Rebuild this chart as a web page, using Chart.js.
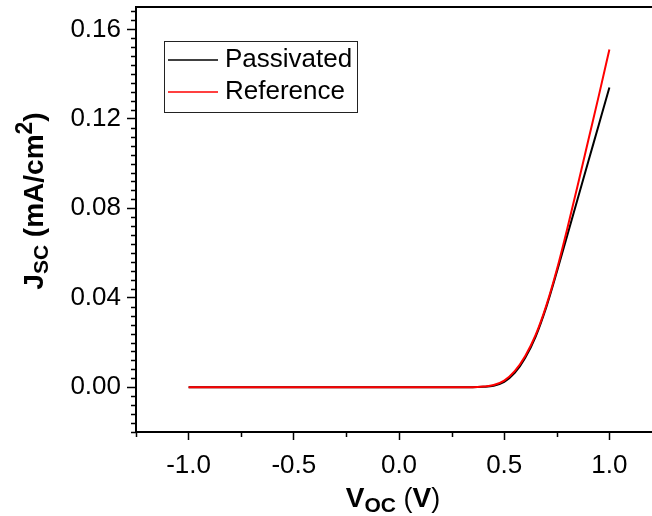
<!DOCTYPE html>
<html>
<head>
<meta charset="utf-8">
<script src="https://cdn.jsdelivr.net/npm/chart.js@4.4.1/dist/chart.umd.min.js"></script>
<style>
  html, body { margin: 0; padding: 0; background: #fff; overflow: hidden; }
  #jvChart { display: block; }
</style>
</head>
<body>
<canvas id="jvChart" width="670" height="516"></canvas>
<script>
// bias sweep (V) and current density for both devices (mA/cm2)
const vocV = [-1.0, -0.5, 0.0, 0.30, 0.35, 0.40, 0.45, 0.50, 0.55, 0.60, 0.65, 0.70, 0.75, 0.80, 0.85, 0.90, 0.95, 1.00];
const jPassivated = [0, 0, 0, 0, 0, 0.0002, 0.0007, 0.0024, 0.0064, 0.0132, 0.0228, 0.0358, 0.0515, 0.0680, 0.0845, 0.1010, 0.1175, 0.1340];
const jReference = [0, 0, 0, 0, 0, 0.0003, 0.0010, 0.0030, 0.0072, 0.0140, 0.0235, 0.0365, 0.0525, 0.0710, 0.0905, 0.1105, 0.1305, 0.1510];

const seriesNames = ['Passivated', 'Reference'];
const seriesColors = ['#000000', '#ff0000'];

const xTicks = [-1.0, -0.5, 0.0, 0.5, 1.0];
const xMinorTicks = [-1.25, -0.75, -0.25, 0.25, 0.75, 1.25];
const yTicks = [0.00, 0.04, 0.08, 0.12, 0.16];

const FONT = '"Liberation Sans", Arial, sans-serif';

function toPoints(ys) {
  return vocV.map((v, i) => ({ x: v, y: ys[i] }));
}

// keep the plot box fixed, no extra room for edge labels
function fixBox(s, size) {
  if (s.isHorizontal()) s.height = size; else s.width = size;
  s.paddingTop = s.paddingBottom = s.paddingLeft = s.paddingRight = 0;
}

// minor ticks, box outline and legend
const decorPlugin = {
  id: 'decor',
  afterDraw(chart) {
    const { ctx, chartArea: a, scales } = chart;
    ctx.save();
    ctx.strokeStyle = '#000';
    ctx.lineWidth = 1.5;
    ctx.beginPath();
    for (let k = -5; k <= 42; k++) {
      if (k % 10 === 0) continue;
      const y = Math.round(scales.y.getPixelForValue(k * 0.004)) + 0.5;
      ctx.moveTo(a.left - 5, y);
      ctx.lineTo(a.left, y);
    }
    xMinorTicks.forEach(v => {
      const x = Math.round(scales.x.getPixelForValue(v)) + 0.5;
      ctx.moveTo(x, a.bottom);
      ctx.lineTo(x, a.bottom + 5);
    });
    ctx.stroke();

    ctx.lineWidth = 2;
    ctx.strokeRect(a.left, a.top, a.right - a.left, a.bottom - a.top);

    // legend box
    const lx = a.left + 28, ly = a.top + 34;
    ctx.lineWidth = 1;
    ctx.strokeStyle = '#222';
    ctx.strokeRect(lx + 0.5, ly + 0.5, 193, 71);
    ctx.font = '26px ' + FONT;
    ctx.textBaseline = 'middle';
    ctx.textAlign = 'left';
    seriesNames.forEach((name, i) => {
      const yy = ly + 19 + i * 32;
      ctx.strokeStyle = seriesColors[i];
      ctx.lineWidth = 1.5;
      ctx.beginPath();
      ctx.moveTo(lx + 4, yy);
      ctx.lineTo(lx + 54, yy);
      ctx.stroke();
      ctx.fillStyle = '#000';
      ctx.fillText(name, lx + 61, yy);
    });

    // axis titles with sub/superscripts
    const drawRuns = (runs, cx, cy, rotate) => {
      ctx.save();
      ctx.translate(cx, cy);
      if (rotate) ctx.rotate(-Math.PI / 2);
      ctx.textBaseline = 'alphabetic';
      ctx.fillStyle = '#000';
      let total = 0;
      runs.forEach(r => { ctx.font = r.font; total += ctx.measureText(r.text).width; });
      let x = -total / 2;
      runs.forEach(r => {
        ctx.font = r.font;
        ctx.fillText(r.text, x, r.dy || 0);
        x += ctx.measureText(r.text).width;
      });
      ctx.restore();
    };
    const big = 'bold 28px ' + FONT;
    const small = 'bold 21px ' + FONT;
    drawRuns([
      { text: 'J', font: big },
      { text: 'SC', font: small, dy: 5 },
      { text: ' (mA/cm', font: big },
      { text: '2', font: 'bold 23px ' + FONT, dy: -11 },
      { text: ')', font: big }
    ], 43, 201, true);
    drawRuns([
      { text: 'V', font: big },
      { text: 'OC', font: small, dy: 5 },
      { text: ' (', font: '27px ' + FONT },
      { text: 'V', font: big },
      { text: ')', font: '27px ' + FONT }
    ], 393, 507, false);
    ctx.restore();
  }
};

new Chart(document.getElementById('jvChart'), {
  type: 'line',
  data: {
    datasets: [
      { label: seriesNames[0], data: toPoints(jPassivated), borderColor: seriesColors[0], order: 2 },
      { label: seriesNames[1], data: toPoints(jReference), borderColor: seriesColors[1], order: 1 }
    ]
  },
  options: {
    responsive: false,
    animation: false,
    devicePixelRatio: 1,
    layout: { padding: { left: 0, top: 7, right: 8, bottom: 0 } },
    elements: {
      point: { radius: 0 },
      line: { borderWidth: 2, cubicInterpolationMode: 'monotone', fill: false }
    },
    plugins: { legend: { display: false }, tooltip: { enabled: false } },
    scales: {
      x: {
        type: 'linear',
        min: -1.25,
        max: 1.25,
        afterBuildTicks: s => { s.ticks = xTicks.map(value => ({ value })); },
        afterFit: s => fixBox(s, 84),
        border: { display: false },
        grid: { drawOnChartArea: false, drawTicks: true, tickLength: 8, tickColor: '#000', tickWidth: 1.5 },
        ticks: {
          color: '#000',
          padding: 10,
          maxRotation: 0,
          font: { family: FONT, size: 26 },
          callback: v => v.toFixed(1)
        }
      },
      y: {
        type: 'linear',
        min: -0.02,
        max: 0.17,
        afterBuildTicks: s => { s.ticks = yTicks.map(value => ({ value })); },
        afterFit: s => fixBox(s, 136),
        border: { display: false },
        grid: { drawOnChartArea: false, drawTicks: true, tickLength: 9, tickColor: '#000', tickWidth: 1.5 },
        ticks: {
          color: '#000',
          padding: 6,
          font: { family: FONT, size: 26 },
          callback: v => v.toFixed(2)
        }
      }
    }
  },
  plugins: [decorPlugin]
});
</script>
</body>
</html>
